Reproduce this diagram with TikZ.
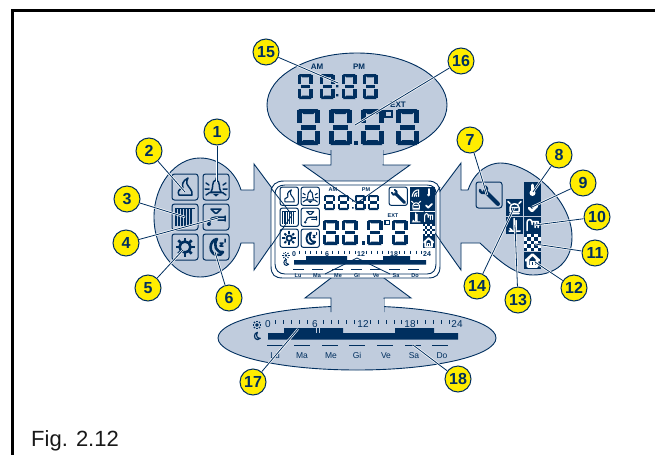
\documentclass[tikz,border=0pt]{standalone}
\usepackage{fontspec}
\setmainfont{Liberation Sans}
\usetikzlibrary{calc}
\definecolor{dk}{HTML}{002F5F}
\definecolor{bl}{HTML}{C0CCDD}
\definecolor{yl}{HTML}{FFED00}
\newcommand\fsz[1]{\fontsize{#1}{#1}\selectfont}
\newcommand\eight[5]{%
 \pgfmathsetmacro\xL{#1}\pgfmathsetmacro\yT{#2}\pgfmathsetmacro\xR{#1+#3}\pgfmathsetmacro\yB{#2+#4}%
 \pgfmathsetmacro\yM{#2+#4/2}\pgfmathsetmacro\tk{#5}\pgfmathsetmacro\gp{#5*0.25}%
 \fill[dk] (\xL+\gp,\yT) -- (\xR-\gp,\yT) -- (\xR-\gp-\tk,\yT+\tk) -- (\xL+\gp+\tk,\yT+\tk) -- cycle;
 \fill[dk] (\xL+\gp,\yB) -- (\xR-\gp,\yB) -- (\xR-\gp-\tk,\yB-\tk) -- (\xL+\gp+\tk,\yB-\tk) -- cycle;
 \fill[dk] (\xL+\gp+\tk*.5,\yM-\tk*.5) rectangle (\xR-\gp-\tk*.5,\yM+\tk*.5);
 \fill[dk] (\xL,\yT+\gp) rectangle (\xL+\tk,\yM-\tk*.5-\gp);
 \fill[dk] (\xR-\tk,\yT+\gp) rectangle (\xR,\yM-\tk*.5-\gp);
 \fill[dk] (\xL,\yM+\tk*.5+\gp) rectangle (\xL+\tk,\yB-\gp);
 \fill[dk] (\xR-\tk,\yM+\tk*.5+\gp) rectangle (\xR,\yB-\gp);
}
\newenvironment{ico}[3]{\begin{scope}[shift={(#1,#2)},scale=#3,line cap=round,line join=round]\pgfmathsetlengthmacro\lwA{1.5pt*#3}\pgfmathsetlengthmacro\lwB{2.6pt*#3}\pgfmathsetlengthmacro\lwC{4pt*#3}\pgfmathsetmacro\scl{#3}}{\end{scope}}
\newcommand\icbox{\draw[dk,line width=1pt,rounded corners=2.5pt,fill=none] (0,0) rectangle (26,26);}
\newcommand\iflame{\draw[dk,line width=\lwA] (16,4) .. controls (10,7) and (10,11) .. (11,14) .. controls (7,15) and (5,18) .. (7,21) -- (20,21) .. controls (21,16) and (16,13) .. (15,10) .. controls (14,8) and (15,6) .. (16,4);}
\newcommand\ibell{\draw[dk,line width=\lwA] (8,18) .. controls (11,14) and (8,7) .. (13,6) .. controls (18,7) and (15,14) .. (18,18) -- cycle (6,18.5) -- (20,18.5) (13,4) -- (13,6) (3,9) -- (6,11) (2,15) -- (6,15) (3,21) -- (6,19) (23,9) -- (20,11) (24,15) -- (20,15) (23,21) -- (20,19);\fill[dk] (10,20) -- (16,20) -- (13,22.5) -- cycle;}
\newcommand\irad{\foreach \q in {4,7,10,13,16,19}{\draw[dk,line width=\lwA,line cap=butt] (\q,4) -- (\q,22);}\draw[dk,line width=\lwA,line cap=butt] (3,4.5) -- (23,4.5);}
\newcommand\itap{\draw[dk,line width=\lwA] (8,5) -- (18,5) -- (14,9) -- (12,9) -- cycle (7,18) .. controls (7,14) and (10,13) .. (13,13) -- (22,13) (15,16) -- (22,16) (22,12) -- (22,17);\fill[dk] (6,20) circle[radius=2pt];}
\newcommand\isun{\draw[dk,line width=\lwB] (13,13) circle[radius=5.5*\scl pt];\foreach \q in {0,45,...,315}{\draw[dk,line width=\lwB,line cap=butt] ($(13,13)+(\q:6)$) -- ($(13,13)+(\q:9.5)$);}}
\newcommand\imoon{\draw[dk,line width=\lwB] (14,5) .. controls (6,6) and (5,20) .. (14,21) .. controls (17,21.5) and (19,20) .. (20,18) .. controls (13,19) and (10,11) .. (14,5);}
\newcommand\izz{\draw[dk,line width=\lwA] (17,9) -- (20,9) -- (17,12) -- (20,12) (22,5) -- (22,8);}
\newcommand\iwrench{\draw[dk,line width=\lwC] (9,9) -- (22,22);\draw[dk,line width=\lwB] (4,8) .. controls (4,11) and (8,12) .. (10,10) .. controls (12,8) and (11,5) .. (8,4);}
\newcommand\ither{\draw[white,line width=\lwB] (8.5,3) -- (8.5,10);\fill[white] (8.5,11) circle[radius=3*\scl pt];}
\newcommand\icheck{\draw[white,line width=\lwB] (5,9) -- (8,12) -- (13,7);}
\newcommand\ipipe{\draw[white,line width=\lwA] (3,14) -- (3,6) .. controls (3,2) and (8,2) .. (8,6) -- (8,8) (8,5) -- (14,5) -- (14,11) (11,6) -- (11,11);}
\newcommand\ichk{\fill[white] (0,0) rectangle (17,17);\foreach \a in {0,...,4}{\foreach \b in {0,...,4}{\pgfmathparse{int(mod(\a+\b,2))}\ifnum\pgfmathresult=0 \fill[dk] (\a*3.4,\b*3.4) rectangle ++(3.4,3.4);\fi}}}
\newcommand\ihouse{\draw[white,line width=\lwB] (2,9) -- (8.5,3) -- (15,9) (4,8) -- (4,15) -- (13,15) -- (13,8);\draw[white,line width=\lwA] (7,15) -- (7,10) -- (10,10) -- (10,15);}
\newcommand\iboil{\draw[white,line width=\lwA] (8,2) -- (8,13) (10,4) -- (10,13) (3,14.5) -- (14,14.5) (4,12) -- (6,14);}
\newcommand\idome{\draw[white,line width=\lwA] (4,13) -- (4,9) .. controls (4,4) and (13,4) .. (13,9) -- (13,13) -- cycle (2,3) -- (4,5) (15,3) -- (13,5) (6,9) -- (11,9) (4,15) -- (13,15);}
\newcommand\iwave{\draw[white,line width=\lwA] (3,13) .. controls (4,7) and (7,4) .. (12,4) -- (12,13) (6,13) .. controls (6,10) and (8,8) .. (10,8) (9,13) -- (9,11);}
\newcommand\dkblock[3]{\fill[dk] (#1,#2) rectangle ++(#3,#3);}
\tikzset{
 blob/.style={fill=bl,draw=dk,line width=0.9pt,line join=miter},
 badge/.style={circle,draw=dk,fill=yl,line width=1pt,minimum size=26pt,inner sep=0pt,text=dk,font=\fsz{16}\bfseries},
 halo/.style={white,line width=2.2pt},
 lead/.style={dk,line width=0.8pt},
 bezel/.style={dk,line width=0.9pt},
 txt/.style={inner sep=0pt,text=dk}
}
\begin{document}
\begin{tikzpicture}[x=1pt,y=-1pt]
\useasboundingbox (0,0) rectangle (655,455);
\fill[white] (0,0) rectangle (655,455);
\draw[black,line width=2.5pt] (655,10.5) -- (12.5,10.5) -- (12.5,455);
\node[anchor=base west,inner sep=0pt,font=\fsz{22},text=black!90] (fig) at (31,446) {Fig. 2.12};
% top blob
\draw[blob] (357,105) ellipse [x radius=90pt,y radius=52pt];
\draw[blob] (331,150) -- (331,165) -- (303,165) -- (357,203) -- (410,165) -- (383,165) -- (383,150);
\fill[bl] (331.5,148) rectangle (382.5,164);
\fill[bl] (331.5,164) -- (382.5,164) -- (357,190) -- cycle;
% bottom blob
\draw[blob] (357,338) ellipse [x radius=139pt,y radius=32pt];
\draw[blob] (331,312) -- (331,298) -- (305,298) -- (357,258) -- (411,298) -- (384,298) -- (384,312);
\fill[bl] (331.5,298.5) rectangle (383.5,314);
% left blob
\draw[blob] (241,190) .. controls (235,170) and (218,158) .. (200,158) .. controls (175,158) and (154,185) .. (154,217) .. controls (154,250) and (175,277) .. (200,277) .. controls (218,277) and (235,265) .. (241,243) -- (254,243) -- (254,270) -- (292,215) -- (254,164) -- (254,190) -- cycle;
% right blob
\draw[blob] (468,190) .. controls (475,170) and (490,163) .. (500,163) .. controls (530,163) and (572,200) .. (572,237) .. controls (572,262) and (555,275) .. (533,275) .. controls (515,275) and (500,262) .. (480,243) -- (461,243) -- (461,270) -- (422,215) -- (461,163) -- (461,190) -- cycle;
% display
\draw[bezel,fill=white] (271,193) .. controls (271,185) and (276,181) .. (284,181) -- (428,181) .. controls (436,181) and (440,185) .. (440,193) -- (440,266) .. controls (440,275) and (436,278) .. (428,278) -- (283,278) .. controls (275,278) and (271,275) .. (271,266) -- cycle;
\draw[bezel] (275,194) .. controls (275,188) and (279,185) .. (285,185) -- (427,185) .. controls (433,185) and (436,188) .. (436,194) -- (436,264) .. controls (436,270) and (433,274) .. (427,274) -- (285,274) .. controls (279,274) and (275,270) .. (275,264) -- cycle;
% arrow edges across display
\draw[dk,line width=0.8pt] (271,188) -- (292,215) -- (271,246);
\draw[dk,line width=0.8pt] (440,187) -- (422,215) -- (440,240);
\draw[dk,line width=0.8pt] (325,181) -- (357,203) -- (388,181);
\draw[dk,line width=0.8pt] (325,274) -- (357,258) -- (390,274);
% top blob contents
\foreach \x in {298,320,342,363}{\eight{\x}{74}{14.5}{25}{3.4}}
\fill[dk] (336,85) rectangle ++(2.4,2.4) (336,94) rectangle ++(2.4,2.4);
\foreach \x in {297,329,361,396}{\eight{\x}{109}{22.5}{36}{5}}
\fill[dk] (353.5,140.5) rectangle ++(4,4.5);
\draw[dk,line width=1.8pt] (385,111) rectangle (392,117);
\node[txt,font=\fsz{8}\bfseries] (am1) at (317,67) {AM};
\node[txt,font=\fsz{8}\bfseries] (pm1) at (359,67) {PM};
\node[txt,font=\fsz{8}\bfseries] (ext1) at (398,105) {EXT};
% display contents
\foreach \x in {324,338,354.5,368}{\eight{\x}{195}{11}{15}{2.2}}
\fill[dk] (352,200) rectangle ++(1.6,1.6) (352,207) rectangle ++(1.6,1.6);
\foreach \x in {323,342,367,392}{\eight{\x}{220}{15.5}{25}{3.4}}
\fill[dk] (362,241) rectangle ++(2.8,3.5);
\draw[dk,line width=1.2pt] (385,220.5) rectangle (389.5,224.5);
\node[txt,font=\fsz{5.5}\bfseries] (am2) at (333,190) {AM};
\node[txt,font=\fsz{5.5}\bfseries] (pm2) at (366,190) {PM};
\node[txt,font=\fsz{5.5}\bfseries] (ext2) at (393,215.5) {EXT};
% display icons
\begin{ico}{280}{187}{0.71}\icbox\iflame\end{ico}
\begin{ico}{301}{187}{0.71}\icbox\ibell\end{ico}
\begin{ico}{280}{208}{0.71}\icbox\irad\end{ico}
\begin{ico}{301}{208}{0.71}\icbox\itap\end{ico}
\begin{ico}{280}{229}{0.71}\icbox\isun\end{ico}
\begin{ico}{301}{229}{0.71}\icbox\imoon\izz\end{ico}
\begin{ico}{389}{187}{0.71}\icbox\iwrench\end{ico}
\fill[dk] (410,187) rectangle (435,211);
\fill[dk] (410,211.5) rectangle (435,224);
\fill[dk] (422.5,236) rectangle (435,248);
\begin{ico}{410}{187}{0.72}\iwave\end{ico}
\begin{ico}{422.5}{187}{0.72}\ither\end{ico}
\begin{ico}{410}{199}{0.72}\idome\end{ico}
\begin{ico}{422.5}{199}{0.72}\icheck\end{ico}
\begin{ico}{410}{211.5}{0.72}\iboil\end{ico}
\begin{ico}{422.5}{211.5}{0.72}\ipipe\end{ico}
\begin{ico}{422.5}{224}{0.72}\ichk\end{ico}
\begin{ico}{422.5}{236}{0.72}\ihouse\end{ico}
% display scale
\begin{ico}{281}{250.5}{0.38}\isun\end{ico}
\begin{ico}{281}{257.5}{0.38}\imoon\end{ico}
\foreach \i in {1,2,3,4,5,7,8,9,10,11,13,14,15,16,17,19,20,21,22,23}{\draw[dk,line width=0.7pt] ({294+5.54*\i},250.5) -- ++(0,3);}
\foreach \v/\x in {0/294,6/327,12/361,18/394,24/427}{\node[txt,font=\fsz{7}\bfseries] (ds\v) at (\x,254) {\v};}
\fill[dk] (294,260) rectangle (426,264.5) (306,256) rectangle (347,260) (383,256) rectangle (410,260);
\foreach \x in {293,312,332,351,370,389,408}{\draw[dk,line width=1pt] (\x,269) -- ++(11,0);}
\foreach \t/\x in {Lu/298,Ma/317,Me/338,Gi/357,Ve/376,Sa/396,Do/415}{\node[txt,font=\fsz{5.5}\bfseries] (dd\t) at (\x,275.5) {\t};}
% bottom blob contents
\begin{ico}{251}{319}{0.46}\isun\end{ico}
\begin{ico}{251}{330}{0.46}\imoon\end{ico}
\foreach \i in {1,2,3,4,5,7,8,9,10,11,13,14,15,16,17,19,20,21,22,23}{\draw[dk,line width=0.9pt] ({268+7.875*\i},320) -- ++(0,4);}
\foreach \v/\x in {0/268,6/315,12/363,18/410,24/457}{\node[txt,font=\fsz{10}] (bs\v) at (\x,324) {\v};}
\fill[dk] (268,333) rectangle (458,339.5) (284,328) rectangle (343,333) (395,328) rectangle (434,333);
\draw[bl,line width=0.6pt] (316,328) -- (316,333) (319,328) -- (319,333);
\foreach \x in {267,294,322,349,377,405,432}{\draw[dk,line width=1.5pt] (\x,345.5) -- ++(16,0);}
\foreach \t/\x in {Lu/275,Ma/302,Me/331,Gi/357,Ve/386,Sa/414,Do/442}{\node[txt,font=\fsz{8.5}] (bd\t) at (\x,355.5) {\t};}
% left icons
\begin{ico}{172}{174}{1}\icbox\iflame\end{ico}
\begin{ico}{203}{174}{1}\icbox\ibell\end{ico}
\begin{ico}{172}{204}{1}\icbox\irad\end{ico}
\begin{ico}{203}{204}{1}\icbox\itap\end{ico}
\begin{ico}{172}{234}{1}\icbox\isun\end{ico}
\begin{ico}{203}{234}{1}\icbox\imoon\izz\end{ico}
% right icons
\begin{ico}{476}{182}{1}\icbox\iwrench\end{ico}
\dkblock{524}{182}{17}\dkblock{524}{199}{17}\dkblock{524}{216.5}{17}\dkblock{524}{234}{17}\dkblock{524}{251.5}{17}
\dkblock{506}{198.5}{17}\dkblock{506}{216.5}{17}
\begin{ico}{524}{182}{1}\ither\end{ico}
\begin{ico}{524}{199}{1}\icheck\end{ico}
\begin{ico}{524}{216.5}{1}\ipipe\end{ico}
\begin{ico}{524}{234}{1}\ichk\end{ico}
\begin{ico}{524}{251.5}{1}\ihouse\end{ico}
\begin{ico}{506}{198.5}{1}\idome\end{ico}
\begin{ico}{506}{216.5}{1}\iboil\end{ico}
% badges and leaders
\foreach \n/\x/\y in {1/217/132,2/149/151,3/127/199,4/126/243,5/148/288,6/229/298,7/470/140,8/559/155,9/583/183,10/597/217,11/595/253,12/574/288,13/518/300,14/477/286,15/266/52,16/461/61,17/253/382,18/458/379}{\node[badge] (b\n) at (\x,\y) {\n};}
\foreach \n/\x/\y in {1/217/182,2/185/192,3/185/217,4/218/218,5/183/250,6/215/252,7/487/195,8/533/192,9/532/207,10/535/225,11/535/244,12/535/262,13/515/225,14/514/208,15/338/83,16/355/125,17/298/329,18/413/345}{\coordinate (t\n) at (\x,\y);}
\foreach \n in {1,...,18}{\draw[halo] (b\n) -- (t\n);\draw[lead] (b\n) -- (t\n);}
\end{tikzpicture}
\end{document}
